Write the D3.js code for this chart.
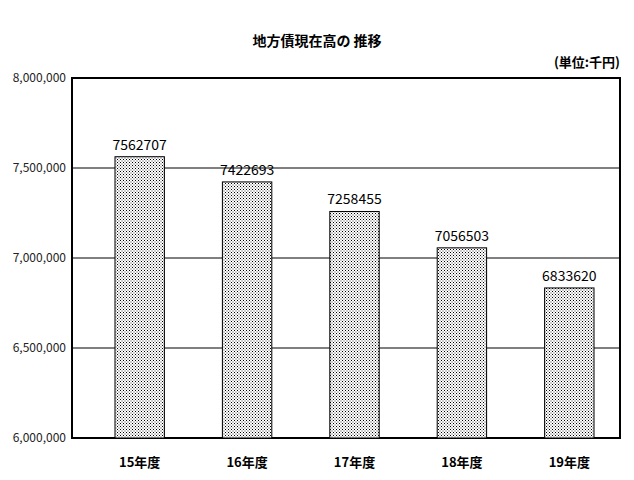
<!DOCTYPE html>
<html>
<head>
  <meta charset="utf-8">
  <script src="https://d3js.org/d3.v7.min.js"></script>
  <style>body{margin:0;background:#fff;}</style>
</head>
<body>
  <div id="chart"></div>
  <script>
    var categories = ["15年度", "16年度", "17年度", "18年度", "19年度"];
    var values = [7562707, 7422693, 7258455, 7056503, 6833620];
    var tickValues = [6000000, 6500000, 7000000, 7500000, 8000000];

    var width = 634, height = 480;
    var margin = { top: 78, right: 14, bottom: 42, left: 72 };
    var font = "'MS PGothic','Noto Sans CJK JP',sans-serif";

    var svg = d3.select("#chart").append("svg")
      .attr("width", width).attr("height", height);

    // dotted fill
    var pat = svg.append("defs").append("pattern")
      .attr("id", "dots").attr("width", 3).attr("height", 3)
      .attr("patternUnits", "userSpaceOnUse");
    pat.append("rect").attr("width", 3).attr("height", 3).attr("fill", "#fff");
    pat.append("rect").attr("width", 1).attr("height", 1).attr("fill", "#000");
    pat.append("rect").attr("x", 1.5).attr("y", 1.5).attr("width", 1).attr("height", 1).attr("fill", "#333");

    var x = d3.scaleBand().domain(categories)
      .range([86, 623]).paddingInner(0.54).paddingOuter(0.27);
    var y = d3.scaleLinear().domain([6000000, 8000000])
      .range([height - margin.bottom, margin.top]);

    svg.selectAll(".grid").data(tickValues.slice(1, 4)).enter().append("line")
      .attr("x1", margin.left).attr("x2", width - margin.right)
      .attr("y1", function(d) { return y(d); }).attr("y2", function(d) { return y(d); })
      .attr("stroke", "#000").attr("stroke-width", 1);

    svg.append("rect")
      .attr("x", margin.left).attr("y", margin.top)
      .attr("width", width - margin.left - margin.right)
      .attr("height", height - margin.top - margin.bottom)
      .attr("fill", "none").attr("stroke", "#000").attr("stroke-width", 2);

    svg.selectAll(".bar").data(values).enter().append("rect")
      .attr("x", function(d, i) { return x(categories[i]); })
      .attr("y", function(d) { return y(d); })
      .attr("width", x.bandwidth())
      .attr("height", function(d) { return y(6000000) - y(d); })
      .attr("fill", "url(#dots)").attr("stroke", "#000").attr("stroke-width", 1);

    svg.selectAll(".val").data(values).enter().append("text")
      .attr("x", function(d, i) { return x(categories[i]) + x.bandwidth() / 2; })
      .attr("y", function(d) { return y(d) - 7; })
      .attr("text-anchor", "middle").style("font-family", font).style("font-size", "14px")
      .text(function(d) { return d; });

    svg.selectAll(".ytick").data(tickValues).enter().append("text")
      .attr("x", 66).attr("y", function(d) { return y(d) + 4; })
      .attr("text-anchor", "end").style("font-family", font).style("font-size", "12px")
      .style("fill", "#222")
      .text(function(d) { return d3.format(",")(d); });

    svg.selectAll(".xlab").data(categories).enter().append("text")
      .attr("x", function(d) { return x(d) + x.bandwidth() / 2; })
      .attr("y", 467).attr("text-anchor", "middle")
      .style("font-family", font).style("font-size", "13px").style("font-weight", "bold")
      .text(function(d) { return d; });

    svg.append("text").attr("x", 317).attr("y", 46).attr("text-anchor", "middle")
      .style("font-family", font).style("font-size", "14px").style("font-weight", "bold")
      .text("地方債現在高の 推移");

    svg.append("text").attr("x", 620).attr("y", 67).attr("text-anchor", "end")
      .style("font-family", font).style("font-size", "13px").style("font-weight", "bold")
      .text("(単位:千円)");
  </script>
</body>
</html>
